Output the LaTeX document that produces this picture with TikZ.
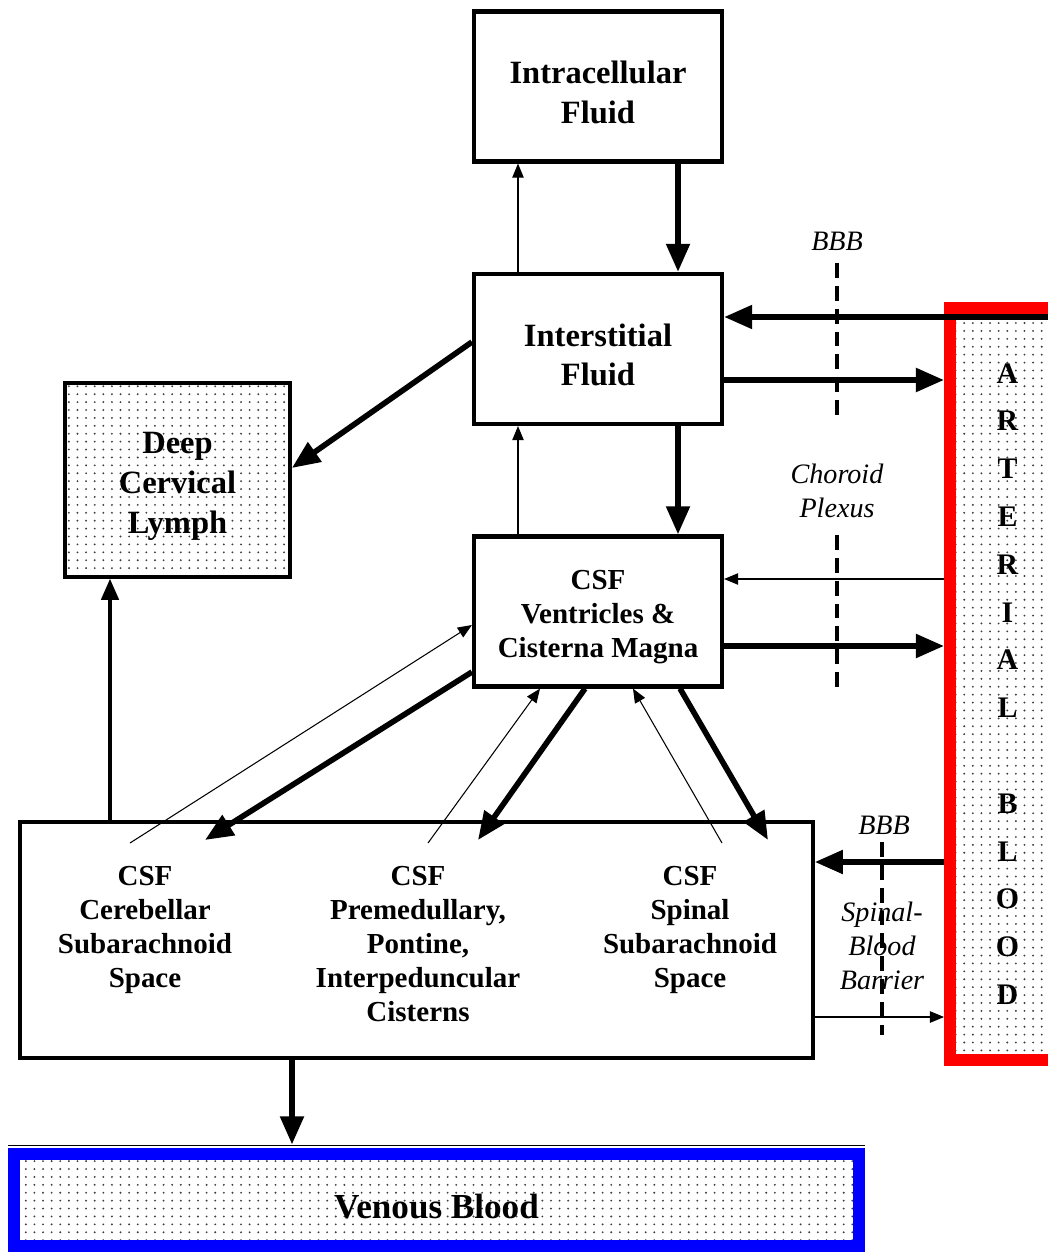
\documentclass[tikz,border=0pt]{standalone}
\usepackage{fontspec}
\setmainfont{Liberation Serif}
\usetikzlibrary{arrows.meta,patterns}

\pgfdeclarepatternformonly{fluiddots}{\pgfqpoint{-1pt}{-1pt}}{\pgfqpoint{1pt}{1pt}}{\pgfqpoint{4.9pt}{4.5pt}}%
  {\pgfpathcircle{\pgfqpoint{0pt}{0pt}}{0.6pt}\pgfusepath{fill}}
\newcommand{\lift}{\rule{0pt}{1.06em}}

\begin{document}
\begin{tikzpicture}[
        x = 0.02cm, y = -0.02cm,
        box/.style = {draw, line width = 2.4pt, align = center,
            minimum width = 4.96cm, minimum height = 3cm,
            font = \bfseries\fontsize{18.5}{22.7}\selectfont},
        dots/.style = {pattern = fluiddots, pattern color = black!75},
        sublabel/.style = {align = center, font = \bfseries\fontsize{16.5}{19.3}\selectfont},
        tag/.style = {align = center, font = \itshape\fontsize{16}{19.3}\selectfont},
        heavy/.style = {line width = 3.2pt, -{Triangle[length = 16pt, width = 13pt]}},
        medium/.style = {line width = 1.8pt, -{Triangle[length = 12pt, width = 10pt]}},
        light/.style = {line width = 0.6pt, -{Triangle[length = 8pt, width = 6.5pt]}},
        barrier/.style = {line width = 1.8pt, dash pattern = on 8.5pt off 4.5pt},
        ]
        \useasboundingbox (0,0) rectangle (1047,1256);

        % compartments
        \node[box] (intra) at (598,86.5) {\lift Intracellular\\Fluid};
        \node[box] (inter) at (598,349) {\lift Interstitial\\Fluid};
        \node[box, font = \bfseries\fontsize{16.5}{19.3}\selectfont] (csfv) at (598,611.5)
            {\lift CSF\\Ventricles \&\\Cisterna Magna};
        \node[box, dots, minimum width = 4.49cm, minimum height = 3.87cm] (lymph) at (177.5,480)
            {\lift Deep\\Cervical\\Lymph};
        \node[box, minimum width = 15.85cm, minimum height = 4.71cm] (sas) at (416.5,940) {};
        \node[sublabel] (cereb) at (145,930) {CSF\\Cerebellar\\Subarachnoid\\Space};
        \node[sublabel] (premed) at (418,944) {CSF\\Premedullary,\\Pontine,\\Interpeduncular\\Cisterns};
        \node[sublabel] (spinal) at (690,930) {CSF\\Spinal\\Subarachnoid\\Space};
        \node[box, dots, draw = blue, line width = 6.8pt, minimum width = 16.9cm, minimum height = 1.84cm,
            font = \bfseries\fontsize{20}{24}\selectfont] (venous) at (436.5,1200) {\lift Venous Blood};
        \draw[line width = 0.8pt] ([yshift = 1.6pt]venous.north west) -- ([yshift = 1.6pt]venous.north east);
        \node[draw = red, dots, line width = 6.8pt, minimum width = 2.3cm, minimum height = 15.06cm,
            align = center, font = \bfseries\fontsize{17}{27.2}\selectfont] (art) at (1007.5,684)
            {A\\R\\T\\E\\R\\I\\A\\L\\[27.2pt]B\\L\\O\\O\\D};

        % free ends inside the subarachnoid box
        \coordinate (cb-in) at (205,840);
        \coordinate (cb-out) at (130,843);
        \coordinate (pm-in) at (478,840);
        \coordinate (pm-out) at (428,843);
        \coordinate (sp-in) at (768,840);
        \coordinate (sp-out) at (722,843);

        % barriers
        \node[tag] (bbb1) at (837,241) {BBB};
        \node[tag] (choroid) at (837,491) {Choroid\\Plexus};
        \node[tag] (bbb2) at (884,825) {BBB};
        \node[tag] (sbb) at (882,946) {Spinal-\\Blood\\Barrier};
        \draw[barrier] (837,263) -- (837,415);
        \draw[barrier] (837,535) -- (837,690);
        \draw[barrier] (882,842) -- (882,1035);

        % flows
        \draw[heavy] (intra.south -| 678,0) -- (inter.north -| 678,0);
        \draw[light] (inter.north -| 518,0) -- (intra.south -| 518,0);
        \draw[heavy] (art.east |- 0,317) -- (inter.east |- 0,317);
        \draw[heavy] (inter.east |- 0,380) -- (art.west |- 0,380);
        \draw[heavy] (inter.west |- 0,342) -- (lymph.east |- 0,468);
        \draw[heavy] (inter.south -| 678,0) -- (csfv.north -| 678,0);
        \draw[light] (csfv.north -| 518,0) -- (inter.south -| 518,0);
        \draw[light] (art.west |- 0,579) -- (csfv.east |- 0,579);
        \draw[heavy] (csfv.east |- 0,646) -- (art.west |- 0,646);
        \draw[medium] (sas.north -| 110,0) -- (lymph.south -| 110,0);
        \draw[heavy] (csfv.west |- 0,672) -- (cb-in);
        \draw[light] (cb-out) -- (csfv.west |- 0,625);
        \draw[light] (pm-out) -- (csfv.south -| 540,0);
        \draw[heavy] (csfv.south -| 585,0) -- (pm-in);
        \draw[light] (sp-out) -- (csfv.south -| 633,0);
        \draw[heavy] (csfv.south -| 680,0) -- (sp-in);
        \draw[heavy] (art.west |- 0,862) -- (sas.east |- 0,862);
        \draw[light] (sas.east |- 0,1017) -- (art.west |- 0,1017);
        \draw[heavy] (sas.south -| 292,0) -- ([yshift = 2pt]venous.north -| 292,0);
    \end{tikzpicture}
\end{document}
